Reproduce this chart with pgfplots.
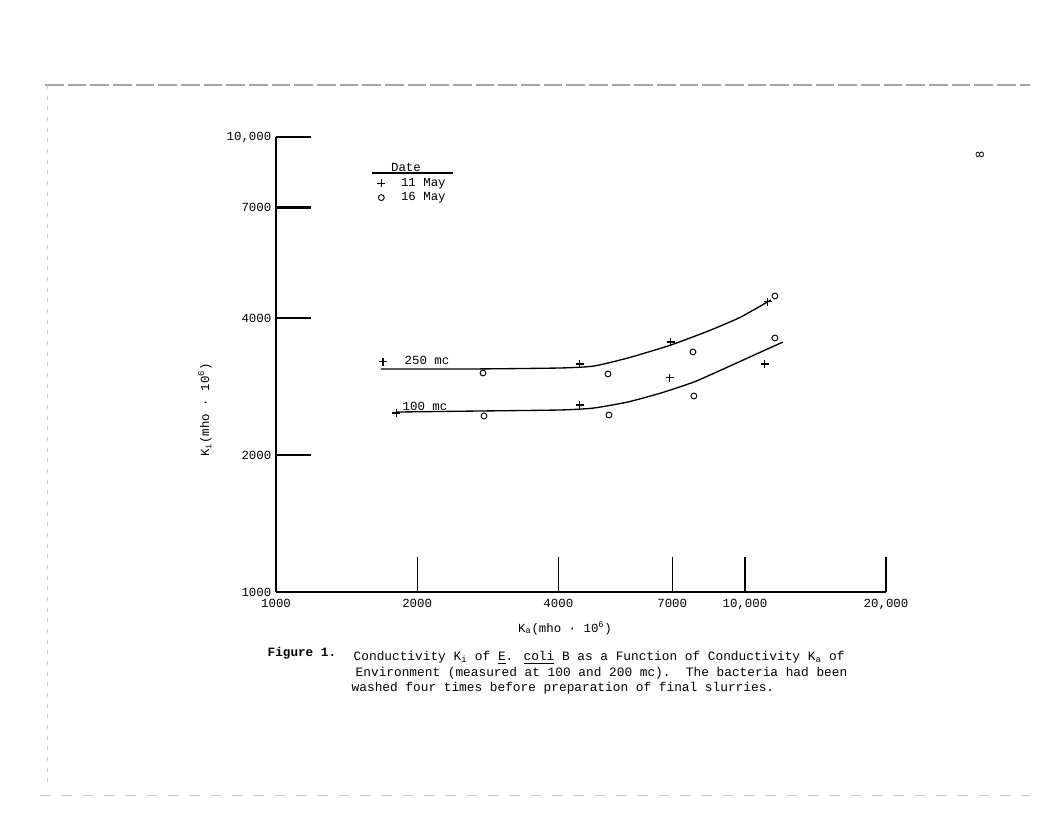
\documentclass[border=0pt]{standalone}
\usepackage{pgfplots}
\pgfplotsset{compat=1.18}
\usepackage{fontspec}
\setmainfont{Liberation Mono}
\begin{document}
\begin{tikzpicture}
\begin{scope}[x=0.75pt,y=0.75pt]
\path[fill=white] (0,0) rectangle (1037,838);
% scanned page frame
\draw[gray!70, line width=0.8pt, dash pattern=on 14pt off 3pt] (45,753) -- (1030,753);
\draw[gray!45, line width=0.6pt, dash pattern=on 3pt off 5pt] (47,753) -- (47,50);
\draw[gray!45, line width=0.6pt, dash pattern=on 8pt off 8pt] (40,43) -- (1030,43);
\node[rotate=90, font=\fontsize{9}{11}\selectfont] at (980,683) {8};
\end{scope}
\begin{axis}[
  at={(207pt,184.5pt)}, anchor=south west, scale only axis,
  width=457.5pt, height=341.25pt,
  xmode=log, ymode=log,
  xmin=1000, xmax=20000, ymin=1000, ymax=10000,
  axis x line=bottom, axis y line=left,
  axis line style={-, line width=1.2pt},
  xtick={1000,2000,4000,7000,10000,20000},
  xticklabels={1000,2000,4000,7000,{10,000},{20,000}},
  ytick={1000,2000,4000,7000,10000},
  yticklabels={1000,2000,4000,7000,{10,000}},
  xminorticks=false, yminorticks=false,
  tick align=inside, major tick length=26pt,
  xtick style={line width=0.9pt, black},
  ytick style={line width=1.8pt, black},
  ticklabel style={font=\fontsize{9.3}{11}\selectfont},
  xticklabel style={yshift=-2pt},
  clip=false,
  legend style={at={(0.147,0.954)}, anchor=north west, draw=none, fill=none,
    font=\fontsize{9.3}{10}\selectfont, row sep=-0.8pt},
  legend cell align=left,
]
\addlegendimage{empty legend}\addlegendentry{\hspace*{0.25em}Date}
% fitted curves
\addplot[forget plot, black, line width=1pt, smooth, tension=0.35] coordinates {
 (1674,3091) (2604,3091) (4053,3107) (4764,3138) (5630,3268) (6955,3490) (8462,3766) (9806,4022) (11362,4383)};
\addplot[forget plot, black, line width=1pt, smooth, tension=0.35] coordinates {
 (1803,2486) (2727,2499) (4053,2512) (4764,2537) (5630,2616) (6620,2737) (7785,2894) (9200,3123) (10817,3369) (12050,3542)};
% 11 May
\addplot[only marks, mark=+, mark size=3pt, line width=0.8pt, black] coordinates {
 (1691,3203) (1803,2474) (4448,3170) (4448,2576) (6955,3543) (6920,2954) (11195,4340) (11030,3170)};
\addlegendentry{\hspace*{1.05em}11 May}
% 16 May
\addplot[only marks, mark=o, mark size=2.2pt, line width=0.7pt, black] coordinates {
 (2763,3029) (2777,2437) (5105,3014) (5129,2449) (7748,3369) (7785,2696) (11588,4472) (11588,3616)};
\addlegendentry{\hspace*{1.05em}16 May}
\end{axis}
\begin{scope}[x=0.75pt,y=0.75pt]
% legend title rule
\draw[line width=0.8pt] (372,665) -- (453,665);
% curve labels
\node[font=\fontsize{9.3}{11}\selectfont] at (427,478) {250 mc};
\node[font=\fontsize{9.3}{11}\selectfont] at (425,432) {100 mc};
% axis titles
\node[rotate=90, font=\fontsize{9.3}{11}\selectfont] at (205,428) {K\textsubscript{i}(mho · 10\textsuperscript{6})};
\node[font=\fontsize{9.3}{11}\selectfont] at (565,210) {K\textsubscript{a}(mho · 10\textsuperscript{6})};
% caption
\node[anchor=base west, font=\fontsize{9.5}{11}\bfseries] at (263,181) {Figure 1.};
\node[anchor=base west, font=\fontsize{9.6}{11}\selectfont] at (349,177) {Conductivity K\textsubscript{i} of \underline{E}. \underline{coli} B as a Function of Conductivity K\textsubscript{a} of};
\node[anchor=base west, font=\fontsize{9.6}{11}\selectfont] at (351,161) {Environment (measured at 100 and 200 mc).\ \ The bacteria had been};
\node[anchor=base west, font=\fontsize{9.6}{11}\selectfont] at (347,146) {washed four times before preparation of final slurries.};
\end{scope}
\end{tikzpicture}
\end{document}
